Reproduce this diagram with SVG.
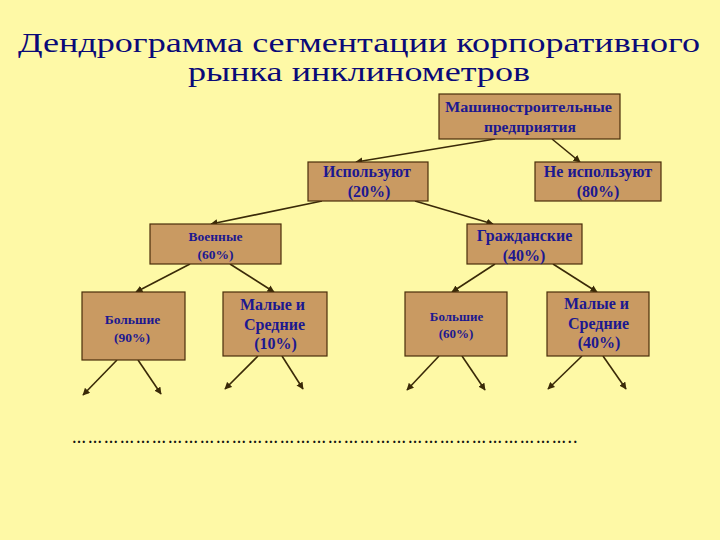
<svg xmlns="http://www.w3.org/2000/svg" width="720" height="540" viewBox="0 0 720 540">
<defs>
<style>
.box{fill:#C99A62;stroke:#4A2E0A;stroke-width:1.2}
.t{font-family:"Liberation Serif",serif;font-weight:bold;fill:#1C1890;text-anchor:middle}
.title{font-family:"Liberation Serif",serif;fill:#0A0A78;font-size:27px}
.c line{stroke:#3A2A08;stroke-width:1.6;marker-end:url(#ah)}
</style>
<marker id="ah" viewBox="0 0 10 10" refX="9" refY="5" markerWidth="4.5" markerHeight="4.5" orient="auto" markerUnits="strokeWidth">
<path d="M0,0 L10,5 L0,10 z" fill="#3A2A08"/>
</marker>
</defs>
<rect width="720" height="540" fill="#FEF9A6"/>
<text class="title" x="18" y="52" textLength="682" lengthAdjust="spacingAndGlyphs">Дендрограмма сегментации корпоративного</text>
<text class="title" x="188" y="81" textLength="342" lengthAdjust="spacingAndGlyphs">рынка инклинометров</text>

<g class="c" id="connectors">
<line x1="495" y1="139" x2="356" y2="162"/>
<line x1="552" y1="139" x2="580" y2="162"/>
<line x1="322" y1="201" x2="211" y2="224"/>
<line x1="415" y1="201" x2="493" y2="224"/>
<line x1="190" y1="264" x2="136" y2="292"/>
<line x1="230" y1="264" x2="274" y2="292"/>
<line x1="495" y1="264" x2="452" y2="292"/>
<line x1="553" y1="264" x2="597" y2="292"/>
<line x1="117" y1="360" x2="83" y2="395"/>
<line x1="138" y1="360" x2="161" y2="394"/>
<line x1="258" y1="356" x2="225" y2="389"/>
<line x1="282" y1="356" x2="303" y2="389"/>
<line x1="439" y1="356" x2="407" y2="390"/>
<line x1="462" y1="356" x2="485" y2="390"/>
<line x1="582" y1="356" x2="548" y2="389"/>
<line x1="603" y1="356" x2="626" y2="389"/>
</g>

<g id="root"><rect class="box" x="439" y="94" width="181" height="45"/>
<text class="t" x="528.5" y="112" font-size="15.5" textLength="167" lengthAdjust="spacingAndGlyphs">Машиностроительные</text>
<text class="t" x="530" y="132" font-size="15.5">предприятия</text></g>

<g id="use"><rect class="box" x="308" y="162" width="120" height="39"/>
<text class="t" x="367" y="177" font-size="16">Используют</text>
<text class="t" x="369" y="197" font-size="16">(20%)</text></g>

<g id="nouse"><rect class="box" x="535" y="162" width="126" height="39"/>
<text class="t" x="598" y="177" font-size="16">Не используют</text>
<text class="t" x="598" y="197" font-size="16">(80%)</text></g>

<g id="military"><rect class="box" x="150" y="224" width="131" height="40"/>
<text class="t" x="215.5" y="241" font-size="13.5">Военные</text>
<text class="t" x="215.5" y="259" font-size="13.5">(60%)</text></g>

<g id="civil"><rect class="box" x="467" y="224" width="115" height="40"/>
<text class="t" x="524.5" y="241" font-size="16">Гражданские</text>
<text class="t" x="524" y="261" font-size="16">(40%)</text></g>

<g id="big90"><rect class="box" x="82" y="292" width="103" height="68"/>
<text class="t" x="132.5" y="324" font-size="13.5">Большие</text>
<text class="t" x="132" y="342" font-size="13.5">(90%)</text></g>

<g id="small10"><rect class="box" x="223" y="292" width="104" height="64"/>
<text class="t" x="272.5" y="310" font-size="16">Малые и</text>
<text class="t" x="274.5" y="330" font-size="16">Средние</text>
<text class="t" x="275.5" y="349" font-size="16">(10%)</text></g>

<g id="big60"><rect class="box" x="405" y="292" width="102" height="64"/>
<text class="t" x="456.5" y="321" font-size="13">Большие</text>
<text class="t" x="456" y="338" font-size="13">(60%)</text></g>

<g id="small40"><rect class="box" x="547" y="292" width="102" height="64"/>
<text class="t" x="596.5" y="309" font-size="16">Малые и</text>
<text class="t" x="598.5" y="329" font-size="16">Средние</text>
<text class="t" x="599" y="348" font-size="16">(40%)</text></g>

<text x="72" y="443" font-family="Liberation Serif, serif" font-weight="bold" font-size="14" fill="#111" textLength="505" lengthAdjust="spacing">…………………………………………………………………………………..</text>
</svg>
